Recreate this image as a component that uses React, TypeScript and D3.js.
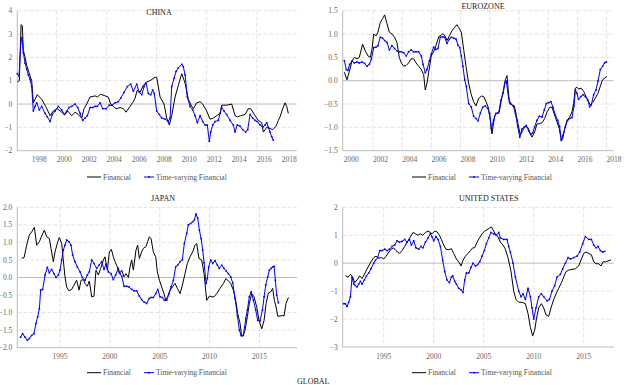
import React from 'react';
import * as d3 from 'd3';

// ---------------- DATA ----------------
const chinaFinYears = [1996.85,1997.01,1997.15,1997.25,1997.33,1997.47,1997.60,1997.73,1997.87,1998.00,1998.13,1998.45,1998.80,1999.12,1999.47,1999.73,2000.05,2000.40,2000.67,2000.88,2001.20,2001.47,2001.73,2002.00,2002.19,2002.40,2002.67,2003.07,2003.25,2003.52,2003.87,2004.13,2004.32,2004.53,2004.75,2005.07,2005.33,2005.55,2005.87,2006.13,2006.27,2006.45,2006.67,2006.93,2007.20,2007.47,2007.87,2008.00,2008.27,2008.59,2008.80,2009.01,2009.20,2009.47,2009.73,2010.00,2010.27,2010.53,2010.80,2010.93,2011.20,2011.47,2011.68,2012.00,2012.27,2012.53,2012.80,2013.07,2013.20,2013.60,2014.00,2014.27,2014.45,2014.72,2015.07,2015.33,2015.52,2015.87,2016.13,2016.40,2016.53,2016.80,2017.07,2017.28,2017.55,2017.73,2017.87,2018.08,2018.27,2018.40,2018.53];
const chinaFinValues = [0.95,1.0,3.4,3.35,2.3,2.0,1.65,1.45,1.2,1.0,0.05,0.4,0.2,-0.1,-0.5,-0.3,-0.2,-0.35,-0.45,-0.3,-0.5,-0.35,-0.45,-0.6,-0.2,0.0,0.3,0.35,0.3,0.42,0.35,0.3,0.0,-0.1,-0.2,-0.15,-0.2,-0.35,-0.1,0.1,0.25,0.6,0.5,0.8,0.95,1.0,1.15,1.15,0.3,0.0,-0.6,-0.9,-0.5,0.3,0.8,1.3,0.9,0.2,-0.1,-0.2,0.05,0.1,0.0,-0.3,-0.65,-0.6,-0.5,-0.4,-0.05,-0.05,0.0,-0.5,-0.55,-0.5,-0.45,-0.2,-0.2,-0.5,-0.7,-0.8,-1.2,-1.0,-1.05,-1.1,-0.95,-0.7,-0.55,-0.2,0.05,-0.1,-0.4];
const chinaTvYears = [1996.85,1996.99,1997.12,1997.23,1997.33,1997.47,1997.60,1997.73,1997.87,1998.00,1998.13,1998.27,1998.40,1998.61,1998.80,1999.07,1999.25,1999.47,1999.65,1999.87,2000.13,2000.40,2000.61,2000.80,2000.99,2001.20,2001.47,2001.68,2001.87,2002.08,2002.27,2002.45,2002.67,2002.88,2003.07,2003.25,2003.47,2003.68,2003.95,2004.21,2004.40,2004.67,2004.93,2005.12,2005.39,2005.65,2005.92,2006.13,2006.40,2006.61,2006.80,2006.99,2007.15,2007.33,2007.52,2007.68,2007.81,2008.00,2008.21,2008.40,2008.67,2008.93,2009.07,2009.20,2009.39,2009.55,2009.73,2010.00,2010.13,2010.27,2010.45,2010.67,2010.88,2011.07,2011.25,2011.47,2011.68,2011.87,2012.05,2012.21,2012.32,2012.48,2012.67,2012.93,2013.07,2013.20,2013.39,2013.60,2013.87,2014.13,2014.27,2014.45,2014.67,2014.88,2015.12,2015.28,2015.47,2015.68,2015.87,2016.05,2016.27,2016.48,2016.67,2016.80,2016.93,2017.07,2017.20,2017.33];
const chinaTvValues = [1.3,1.2,2.6,2.85,2.2,1.75,1.5,1.25,1.05,0.75,-0.3,-0.1,0.05,-0.25,-0.1,-0.4,-0.55,-0.75,-0.45,-0.3,-0.1,-0.25,-0.45,-0.3,-0.15,-0.1,0.0,-0.15,-0.4,-0.7,-0.6,-0.5,-0.15,-0.15,-0.1,-0.1,0.05,-0.2,-0.2,-0.05,-0.05,0.05,0.1,0.25,0.5,0.75,0.85,0.55,0.85,0.5,0.4,0.75,0.9,0.45,0.4,0.6,0.45,-0.3,-0.45,-0.6,-0.65,-0.75,-0.6,0.75,1.1,1.4,1.55,1.7,1.6,1.25,0.3,-0.1,-0.25,-0.5,-0.8,-0.5,-0.75,-0.9,-0.9,-1.6,-1.2,-0.9,-0.75,-0.7,-0.4,-0.15,-0.3,-0.45,-0.7,-0.9,-1.2,-0.9,-0.95,-1.1,-1.2,-1.1,-0.45,-0.6,-0.7,-0.75,-0.9,-1.0,-0.9,-0.8,-1.0,-1.2,-1.4,-1.55];

const euroFinYears = [2000.04,2000.22,2000.38,2000.56,2000.72,2000.90,2001.06,2001.29,2001.47,2001.66,2001.82,2001.93,2002.05,2002.21,2002.34,2002.50,2002.66,2002.80,2002.96,2003.12,2003.30,2003.48,2003.64,2003.80,2003.94,2004.10,2004.28,2004.44,2004.62,2004.78,2004.95,2005.13,2005.31,2005.47,2005.58,2005.70,2005.81,2005.99,2006.15,2006.31,2006.50,2006.68,2006.79,2006.95,2007.07,2007.23,2007.41,2007.59,2007.75,2007.87,2008.05,2008.21,2008.37,2008.55,2008.73,2008.89,2009.05,2009.24,2009.42,2009.58,2009.74,2009.88,2010.04,2010.15,2010.33,2010.49,2010.65,2010.79,2010.95,2011.06,2011.18,2011.34,2011.52,2011.68,2011.79,2011.93,2012.09,2012.25,2012.43,2012.62,2012.78,2012.89,2013.07,2013.23,2013.42,2013.58,2013.76,2013.92,2014.11,2014.26,2014.44,2014.60,2014.76,2014.90,2014.99,2015.13,2015.29,2015.45,2015.63,2015.74,2015.86,2015.97,2016.08,2016.27,2016.43,2016.59,2016.77,2016.88,2017.04,2017.22,2017.41,2017.57,2017.68,2017.86,2018.02];
const euroFinValues = [0.18,0.02,0.2,0.42,0.5,0.47,0.5,0.78,0.64,0.53,0.5,0.67,1.0,0.96,1.04,1.25,1.33,1.41,1.22,1.04,1.0,0.93,0.82,0.5,0.38,0.31,0.33,0.38,0.47,0.47,0.38,0.31,0.24,0.13,-0.2,-0.05,0.17,0.53,0.62,0.75,0.94,0.98,1.01,0.95,0.86,0.96,1.07,1.14,1.2,1.14,1.04,0.67,0.31,-0.05,-0.3,-0.45,-0.54,-0.38,-0.33,-0.34,-0.45,-0.56,-0.85,-1.14,-0.74,-0.70,-0.67,-0.41,-0.2,0.02,0.11,-0.49,-0.52,-0.54,-0.7,-0.92,-1.17,-1.07,-0.98,-1.01,-1.14,-1.21,-1.1,-0.93,-0.92,-0.9,-0.81,-0.67,-0.57,-0.57,-0.74,-0.88,-1.03,-1.28,-1.25,-1.03,-0.85,-0.79,-0.67,-0.49,-0.16,-0.14,-0.18,-0.16,-0.23,-0.34,-0.45,-0.52,-0.47,-0.38,-0.27,-0.12,-0.01,0.06,0.09];
const euroTvYears = [2000.04,2000.17,2000.29,2000.40,2000.56,2000.72,2000.90,2001.06,2001.25,2001.43,2001.59,2001.75,2001.89,2002.05,2002.21,2002.34,2002.50,2002.66,2002.80,2002.96,2003.12,2003.30,2003.48,2003.64,2003.80,2003.94,2004.10,2004.28,2004.44,2004.62,2004.78,2004.95,2005.13,2005.31,2005.43,2005.58,2005.70,2005.86,2005.99,2006.15,2006.31,2006.45,2006.61,2006.77,2006.91,2007.07,2007.23,2007.37,2007.53,2007.69,2007.82,2007.94,2008.05,2008.16,2008.28,2008.39,2008.55,2008.73,2008.89,2009.05,2009.19,2009.35,2009.51,2009.69,2009.85,2009.99,2010.10,2010.26,2010.42,2010.60,2010.77,2010.90,2011.02,2011.13,2011.29,2011.45,2011.61,2011.75,2011.91,2012.05,2012.21,2012.37,2012.50,2012.66,2012.80,2012.94,2013.07,2013.23,2013.39,2013.58,2013.73,2013.87,2014.03,2014.19,2014.33,2014.49,2014.65,2014.78,2014.90,2015.01,2015.17,2015.33,2015.47,2015.63,2015.77,2015.86,2015.97,2016.08,2016.24,2016.38,2016.54,2016.70,2016.84,2016.95,2017.11,2017.27,2017.41,2017.57,2017.73,2017.86,2017.98];
const euroTvValues = [0.43,0.24,0.22,0.35,0.42,0.38,0.40,0.38,0.40,0.37,0.31,0.35,0.46,0.71,0.72,0.75,0.93,0.91,0.86,0.82,0.66,0.75,0.69,0.64,0.62,0.62,0.60,0.53,0.62,0.66,0.62,0.62,0.62,0.53,0.35,0.17,0.24,0.42,0.57,0.72,0.67,0.69,0.93,0.94,0.93,0.80,0.89,0.93,0.91,0.89,0.76,0.71,0.53,0.31,0.02,-0.12,-0.49,-0.56,-0.76,-0.81,-0.86,-0.70,-0.57,-0.54,-0.59,-0.70,-1.03,-0.85,-0.70,-0.69,-0.41,-0.27,-0.05,-0.01,-0.38,-0.50,-0.54,-0.70,-0.98,-1.21,-1.03,-0.99,-0.96,-1.07,-1.15,-1.12,-0.99,-0.85,-0.76,-0.78,-0.63,-0.49,-0.47,-0.45,-0.57,-0.74,-0.85,-0.98,-1.28,-1.17,-0.99,-0.85,-0.81,-0.79,-0.54,-0.20,-0.27,-0.40,-0.34,-0.30,-0.34,-0.41,-0.56,-0.52,-0.30,-0.20,-0.01,0.24,0.31,0.38,0.40];

const japanFinYears = [1991.15,1991.39,1991.66,1991.92,1992.16,1992.43,1992.66,1992.93,1993.16,1993.43,1993.66,1993.93,1994.10,1994.33,1994.50,1994.73,1994.93,1995.17,1995.33,1995.50,1995.67,1995.90,1996.17,1996.40,1996.67,1996.91,1997.11,1997.34,1997.51,1997.74,1997.94,1998.18,1998.41,1998.61,1998.85,1999.08,1999.35,1999.51,1999.75,1999.95,2000.15,2000.35,2000.52,2000.75,2000.95,2001.19,2001.42,2001.62,2001.86,2002.02,2002.19,2002.36,2002.62,2002.79,2002.96,2003.19,2003.36,2003.63,2003.79,2003.96,2004.13,2004.36,2004.60,2004.76,2004.97,2005.20,2005.43,2005.60,2005.80,2006.04,2006.27,2006.54,2006.77,2007.04,2007.27,2007.54,2007.77,2008.04,2008.31,2008.54,2008.71,2008.94,2009.21,2009.45,2009.71,2009.98,2010.22,2010.45,2010.72,2011.05,2011.39,2011.65,2011.89,2012.12,2012.39,2012.62,2012.82,2013.06,2013.22,2013.39,2013.56,2013.79,2013.99,2014.23,2014.46,2014.73,2014.96,2015.23,2015.47,2015.67,2015.90,2016.13,2016.33,2016.50,2016.67,2016.84,2017.07,2017.30,2017.47,2017.67,2017.91];
const japanFinValues = [0.55,0.56,0.92,1.21,1.30,1.43,0.92,1.02,1.18,1.35,1.16,1.11,0.83,0.45,0.73,0.97,1.14,0.97,0.50,0.02,-0.27,-0.38,-0.34,-0.22,-0.08,-0.36,-0.08,-0.06,-0.17,-0.25,-0.10,-0.55,-0.53,0.21,0.07,0.26,0.50,0.59,0.21,0.73,0.80,0.59,0.45,0.30,0.11,0.21,0.02,0.11,0.00,0.30,0.50,0.21,0.78,0.92,0.54,0.73,0.83,0.88,1.02,1.16,1.11,0.73,0.59,0.16,-0.08,-0.27,-0.46,-0.65,-0.55,-0.36,-0.27,-0.17,-0.31,-0.46,-0.22,0.11,0.40,0.59,0.73,0.92,0.97,0.54,0.50,0.11,-0.65,-0.53,-0.55,-0.55,-0.46,-0.31,-0.17,-0.03,-0.10,-0.17,-0.36,-0.65,-1.03,-1.31,-1.68,-1.65,-1.50,-1.12,-0.74,-0.46,-0.55,-0.84,-1.22,-1.46,-1.22,-0.74,-0.44,-0.41,-0.31,-0.65,-0.84,-1.10,-1.10,-1.08,-1.10,-0.74,-0.57];
const japanTvYears = [1991.05,1991.25,1991.49,1991.72,1991.92,1992.16,1992.39,1992.59,1992.76,1992.93,1993.06,1993.26,1993.50,1993.73,1993.93,1994.16,1994.40,1994.60,1994.83,1995.00,1995.17,1995.33,1995.50,1995.67,1995.90,1996.10,1996.27,1996.50,1996.74,1997.01,1997.24,1997.51,1997.74,1997.94,1998.18,1998.41,1998.68,1998.91,1999.18,1999.41,1999.61,1999.85,2000.12,2000.35,2000.58,2000.85,2001.02,2001.19,2001.42,2001.69,2001.92,2002.19,2002.42,2002.69,2002.96,2003.19,2003.43,2003.69,2003.93,2004.13,2004.36,2004.60,2004.80,2005.03,2005.27,2005.47,2005.70,2005.93,2006.14,2006.37,2006.60,2006.80,2007.04,2007.27,2007.47,2007.71,2007.87,2008.11,2008.31,2008.48,2008.64,2008.81,2008.98,2009.15,2009.31,2009.45,2009.65,2009.78,2009.91,2010.11,2010.32,2010.55,2010.78,2010.98,2011.22,2011.45,2011.65,2011.89,2012.12,2012.32,2012.56,2012.79,2012.99,2013.16,2013.39,2013.63,2013.79,2013.99,2014.16,2014.40,2014.63,2014.83,2015.06,2015.30,2015.47,2015.63,2015.83,2016.00,2016.17,2016.33,2016.47,2016.60,2016.73,2016.90];
const japanTvValues = [-1.70,-1.60,-1.70,-1.79,-1.74,-1.65,-1.60,-1.31,-1.12,-0.89,-0.36,-0.34,0.07,0.29,0.13,0.23,0.11,0.00,0.07,0.21,0.50,0.78,0.92,1.07,1.02,0.92,0.64,0.45,0.30,0.16,0.00,-0.08,0.07,0.16,0.50,0.40,0.26,0.35,0.45,0.23,0.38,0.16,0.11,-0.06,0.07,0.26,0.11,0.04,-0.25,-0.25,-0.27,-0.34,-0.38,-0.38,-0.53,-0.63,-0.70,-0.74,-0.60,-0.57,-0.57,-0.46,-0.34,-0.55,-0.57,-0.65,-0.65,-0.46,-0.27,-0.08,0.30,0.35,0.45,0.50,0.97,1.26,1.50,1.54,1.59,1.64,1.81,1.69,1.35,1.11,0.78,0.42,-0.17,-0.03,0.30,0.50,0.40,0.48,0.35,0.26,0.35,0.26,0.19,0.11,0.02,-0.15,-0.60,-1.08,-1.50,-1.65,-1.65,-1.17,-0.93,-0.55,-0.41,-0.65,-0.93,-1.22,-1.24,-0.93,-0.55,-0.22,0.02,0.21,0.26,0.30,0.32,-0.08,-0.50,-0.72];

const usFinYears = [1991.17,1991.43,1991.67,1991.90,1992.10,1992.33,1992.60,1992.83,1993.07,1993.27,1993.50,1993.73,1994.00,1994.23,1994.50,1994.77,1995.00,1995.23,1995.43,1995.73,1996.00,1996.23,1996.57,1996.83,1997.10,1997.33,1997.60,1997.93,1998.17,1998.43,1998.67,1998.90,1999.17,1999.43,1999.67,1999.83,2000.10,2000.33,2000.57,2000.77,2001.00,2001.23,2001.50,2001.77,2002.00,2002.27,2002.50,2002.73,2002.93,2003.17,2003.43,2003.67,2003.90,2004.10,2004.33,2004.57,2004.83,2005.10,2005.33,2005.57,2005.77,2006.00,2006.23,2006.43,2006.67,2006.93,2007.17,2007.43,2007.73,2008.00,2008.23,2008.50,2008.83,2009.17,2009.43,2009.67,2009.90,2010.10,2010.27,2010.50,2010.77,2011.00,2011.23,2011.50,2011.73,2012.00,2012.23,2012.50,2012.77,2013.00,2013.23,2013.50,2013.83,2014.17,2014.50,2014.77,2015.00,2015.23,2015.50,2015.77,2016.00,2016.23,2016.50,2016.73,2016.93,2017.17,2017.43,2017.73];
const usFinValues = [-0.45,-0.5,-0.4,-0.5,-0.7,-0.6,-0.45,-0.55,-0.4,-0.25,-0.1,0.05,0.2,0.25,0.18,0.2,0.15,0.25,0.35,0.5,0.55,0.45,0.35,0.45,0.6,0.75,0.9,1.1,1.05,1.0,1.05,1.0,1.1,1.15,1.1,1.05,1.15,1.12,1.0,0.85,0.65,0.5,0.48,0.52,0.35,0.15,0.05,-0.1,0.1,0.25,0.35,0.45,0.55,0.55,0.75,0.9,1.05,1.15,1.2,1.25,1.3,1.15,1.0,0.95,0.75,0.65,0.5,0.2,-0.3,-1.0,-1.3,-1.4,-1.4,-1.45,-1.8,-2.3,-2.6,-2.4,-2.0,-1.6,-1.45,-1.6,-1.85,-1.9,-1.6,-1.3,-1.1,-0.9,-0.7,-0.5,-0.3,-0.25,-0.22,-0.2,-0.1,0.15,0.35,0.4,0.35,0.3,0.05,-0.02,-0.02,-0.1,0.05,0.05,0.08,0.12];
const usTvYears = [1991.00,1991.17,1991.33,1991.50,1991.67,1991.83,1992.00,1992.17,1992.33,1992.50,1992.67,1992.83,1993.07,1993.27,1993.50,1993.73,1994.00,1994.17,1994.40,1994.60,1994.83,1995.10,1995.33,1995.57,1995.83,1996.10,1996.33,1996.57,1996.83,1997.10,1997.33,1997.57,1997.77,1998.00,1998.23,1998.50,1998.73,1998.93,1999.17,1999.43,1999.67,1999.83,2000.00,2000.23,2000.43,2000.67,2000.90,2001.10,2001.33,2001.57,2001.77,2001.90,2002.10,2002.27,2002.50,2002.73,2002.93,2003.10,2003.27,2003.50,2003.73,2003.93,2004.17,2004.40,2004.60,2004.83,2005.07,2005.27,2005.50,2005.73,2006.00,2006.27,2006.50,2006.67,2007.00,2007.33,2007.50,2007.67,2007.93,2008.17,2008.50,2008.73,2008.93,2009.17,2009.43,2009.67,2009.83,2010.00,2010.23,2010.50,2010.77,2011.00,2011.33,2011.57,2011.83,2012.10,2012.33,2012.67,2012.90,2013.17,2013.43,2013.67,2014.00,2014.33,2014.60,2014.90,2015.17,2015.50,2015.77,2016.00,2016.23,2016.43,2016.67,2016.90,2017.10];
const usTvValues = [-1.45,-1.45,-1.55,-1.4,-1.2,-0.5,-0.75,-0.8,-0.85,-0.75,-0.65,-0.75,-0.6,-0.45,-0.35,-0.2,0.0,0.1,0.2,0.45,0.45,0.5,0.45,0.5,0.6,0.65,0.8,0.75,0.78,0.85,0.75,0.85,0.65,0.8,0.55,0.5,0.6,0.55,0.75,0.9,1.05,0.95,0.8,0.95,0.85,0.6,0.1,-0.3,-0.6,-0.7,-0.5,-0.45,-0.65,-0.75,-0.9,-0.95,-1.05,-0.6,-0.35,-0.35,-0.15,0.0,-0.1,-0.05,0.05,0.25,0.45,0.7,0.9,1.1,1.05,1.0,1.1,0.9,0.85,0.85,0.6,0.4,0.0,-0.5,-1.0,-1.2,-1.1,-1.3,-0.9,-1.2,-1.6,-2.0,-1.6,-1.2,-1.1,-1.2,-1.35,-1.3,-1.0,-0.8,-0.5,-0.4,-0.2,0.0,0.2,0.15,0.2,0.25,0.4,0.7,0.95,0.85,0.85,0.65,0.55,0.6,0.45,0.4,0.42];

const chinaYTicks = [4, 3, 2, 1, 0, -1, -2];
const euroYTicks = [1.5, 1.0, 0.5, 0.0, -0.5, -1.0, -1.5];
const japanYTicks = [2.0, 1.5, 1.0, 0.5, 0.0, -0.5, -1.0, -1.5, -2.0];
const usYTicks = [2, 1, 0, -1, -2, -3];
const chinaXLabels = [1998, 2000, 2002, 2004, 2006, 2008, 2010, 2012, 2014, 2016, 2018];
const chinaXGrid = [2000, 2004, 2008, 2012, 2016];
const euroXLabels = [2000, 2002, 2004, 2006, 2008, 2010, 2012, 2014, 2016, 2018];
const euroXGrid = [2002, 2004, 2006, 2008, 2010, 2012, 2014, 2016, 2018];
const fiveYearLabels = [1995, 2000, 2005, 2010, 2015];
const seriesNames = ['Financial', 'Time-varying Financial'];

// ---------------- RENDER ----------------
const FONT = '"Liberation Serif", "Times New Roman", serif';
const BLUE = '#0000ff';
const AXIS = '#b4b4b4';
const GRID = '#dcdcdc';

type PanelCfg = {
  title: string; titleX: number; titleY: number;
  left: number; right: number; top: number; bottom: number;
  xDomain: [number, number]; yDomain: [number, number];
  yTicks: number[]; yDecimals: number;
  xLabels: number[]; xGrid: number[]; xAnchor: 'start' | 'middle';
  fin: [number[], number[]]; tv: [number[], number[]];
  legendX: number; legendY: number;
};

function Panel({ c }: { c: PanelCfg }) {
  const x = d3.scaleLinear().domain(c.xDomain).range([c.left, c.right]);
  const y = d3.scaleLinear().domain(c.yDomain).range([c.bottom, c.top]);
  const line = d3.line<[number, number]>().x(d => x(d[0])).y(d => y(d[1]));
  const fin = d3.zip(c.fin[0], c.fin[1]) as [number, number][];
  const tv = d3.zip(c.tv[0], c.tv[1]) as [number, number][];
  const fmt = d3.format(`.${c.yDecimals}f`);
  const lx = c.legendX;
  const ly = c.legendY;
  return (
    <g>
      {c.yTicks.filter(t => t !== 0 && t !== c.yDomain[0]).map(t => (
        <line key={'hy' + t} x1={c.left} x2={c.right} y1={y(t)} y2={y(t)} stroke={GRID} strokeWidth={0.8} strokeDasharray="4,2" />
      ))}
      {c.xGrid.map(t => (
        <line key={'vx' + t} x1={x(t)} x2={x(t)} y1={c.top} y2={c.bottom} stroke={GRID} strokeWidth={0.8} strokeDasharray="4,2" />
      ))}
      <line x1={c.left} x2={c.right} y1={y(0)} y2={y(0)} stroke={AXIS} strokeWidth={0.9} />
      <line x1={c.left} x2={c.left} y1={c.top} y2={c.bottom} stroke={AXIS} strokeWidth={0.9} />
      <line x1={c.left} x2={c.right} y1={c.bottom} y2={c.bottom} stroke={AXIS} strokeWidth={0.9} />
      {c.yTicks.map(t => (
        <text key={'ty' + t} x={c.left - 5} y={y(t) + 2.6} textAnchor="end" fontSize={7.5} fill="#666" fontFamily={FONT}>{fmt(t)}</text>
      ))}
      {c.xLabels.map(t => (
        <text key={'tx' + t} x={x(t)} y={c.bottom + 11.5} textAnchor={c.xAnchor} fontSize={7.5} fill="#666" fontFamily={FONT}>{t}</text>
      ))}
      <path d={line(fin) || ''} fill="none" stroke="#000" strokeWidth={1} />
      <path d={line(tv) || ''} fill="none" stroke={BLUE} strokeWidth={1} />
      {tv.map((d, i) => (
        <rect key={'m' + i} x={x(d[0]) - 0.8} y={y(d[1]) - 0.8} width={1.6} height={1.6} fill={BLUE} />
      ))}
      <text x={c.titleX} y={c.titleY} textAnchor="middle" fontSize={8} fill="#222" fontFamily={FONT}>{c.title}</text>
      <line x1={lx} x2={lx + 14} y1={ly} y2={ly} stroke="#000" strokeWidth={1} />
      <text x={lx + 16} y={ly + 2.6} fontSize={7.5} fill="#555" fontFamily={FONT}>{seriesNames[0]}</text>
      <line x1={lx + 57} x2={lx + 67} y1={ly} y2={ly} stroke={BLUE} strokeWidth={1} />
      <rect x={lx + 61.2} y={ly - 0.8} width={1.6} height={1.6} fill={BLUE} />
      <text x={lx + 69} y={ly + 2.6} fontSize={7.5} fill="#555" fontFamily={FONT}>{seriesNames[1]}</text>
    </g>
  );
}

const panels: PanelCfg[] = [
  {
    title: 'CHINA', titleX: 159, titleY: 14.8,
    left: 17.3, right: 296.7, top: 10.7, bottom: 150.7,
    xDomain: [1996.848, 2019.2], yDomain: [-2, 4], yTicks: chinaYTicks, yDecimals: 0,
    xLabels: chinaXLabels, xGrid: chinaXGrid, xAnchor: 'start',
    fin: [chinaFinYears, chinaFinValues], tv: [chinaTvYears, chinaTvValues],
    legendX: 87, legendY: 177,
  },
  {
    title: 'EUROZONE', titleX: 483, titleY: 8.8,
    left: 342.7, right: 613.7, top: 10.7, bottom: 150.7,
    xDomain: [1999.925, 2018.486], yDomain: [-1.5, 1.5], yTicks: euroYTicks, yDecimals: 1,
    xLabels: euroXLabels, xGrid: euroXGrid, xAnchor: 'start',
    fin: [euroFinYears, euroFinValues], tv: [euroTvYears, euroTvValues],
    legendX: 412, legendY: 177,
  },
  {
    title: 'JAPAN', titleX: 163, titleY: 201,
    left: 17.3, right: 297, top: 207.3, bottom: 347.7,
    xDomain: [1990.717, 2018.77], yDomain: [-2, 2], yTicks: japanYTicks, yDecimals: 1,
    xLabels: fiveYearLabels, xGrid: fiveYearLabels, xAnchor: 'middle',
    fin: [japanFinYears, japanFinValues], tv: [japanTvYears, japanTvValues],
    legendX: 87, legendY: 372.7,
  },
  {
    title: 'UNITED STATES', titleX: 488.7, titleY: 201,
    left: 342.7, right: 614, top: 207.3, bottom: 347,
    xDomain: [1990.9, 2018.03], yDomain: [-3, 2], yTicks: usYTicks, yDecimals: 0,
    xLabels: fiveYearLabels, xGrid: fiveYearLabels, xAnchor: 'middle',
    fin: [usFinYears, usFinValues], tv: [usTvYears, usTvValues],
    legendX: 412, legendY: 372.7,
  },
];

export default function App() {
  return (
    <div style={{ position: 'absolute', left: 0, top: 0, width: 625, height: 385, background: '#fff' }}>
      <svg width={625} height={385} viewBox="0 0 625 385" style={{ display: 'block' }}>
        <rect x={0} y={0} width={625} height={385} fill="#fff" />
        {panels.map(p => <Panel key={p.title} c={p} />)}
        <text x={297} y={383.5} fontSize={8} fill="#222" fontFamily={FONT}>GLOBAL</text>
      </svg>
    </div>
  );
}
